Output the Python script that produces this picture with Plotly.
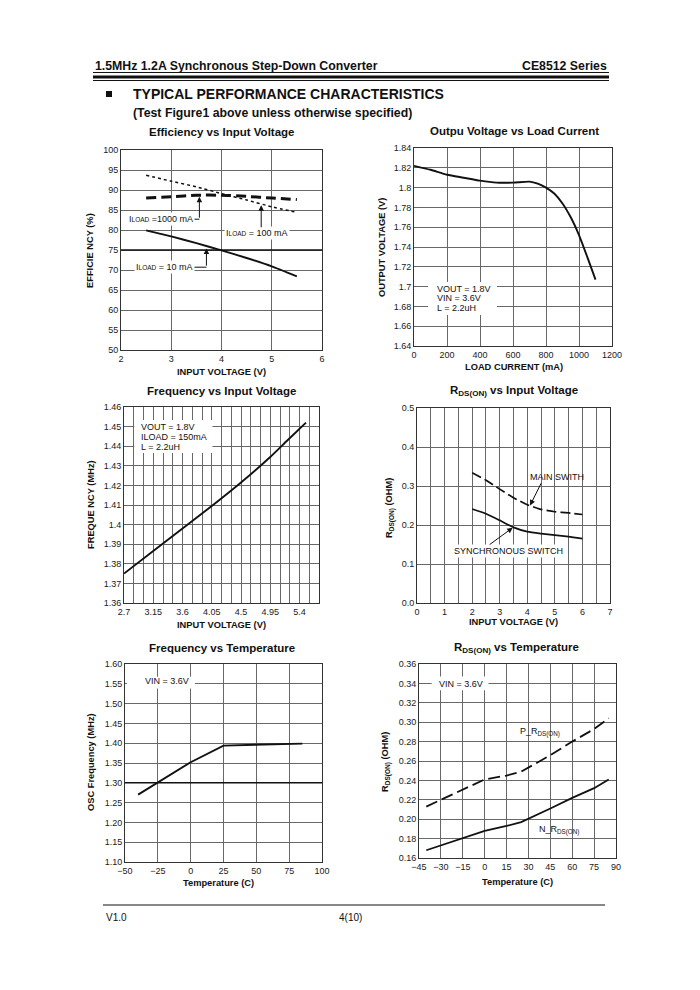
import plotly.graph_objects as go

W, H = 700, 990
FONT = "Liberation Sans, Arial, sans-serif"
GRID = "#686868"
BORDER = "#333333"

# ---------------- data ----------------
eff_vin = [2.5, 3.0, 3.5, 4.0, 4.5, 5.0, 5.5]
eff_10mA = [79.9, 78.4, 76.7, 74.9, 73.0, 70.9, 68.4]
eff_100mA = [93.7, 92.2, 90.8, 89.1, 87.5, 85.8, 84.4]
eff_1000mA = [88.0, 88.3, 88.7, 88.7, 88.4, 88.0, 87.6]

vout_iload = [0, 100, 200, 300, 400, 500, 600, 700, 750, 800, 850, 900, 950, 1000, 1050, 1100]
vout_v = [1.822, 1.818, 1.813, 1.810, 1.807, 1.805, 1.805, 1.806, 1.804, 1.800, 1.794, 1.784,
          1.770, 1.752, 1.730, 1.707]

fosc_vin = [2.7, 3.15, 3.6, 4.05, 4.5, 4.95, 5.2, 5.5]
fosc_mhz = [1.375, 1.3865, 1.398, 1.4095, 1.4215, 1.4345, 1.4425, 1.452]

rds_vin = [2, 2.5, 3, 3.5, 4, 4.5, 5, 5.5, 6]
rds_main = [0.334, 0.315, 0.292, 0.270, 0.252, 0.240, 0.234, 0.231, 0.227]
rds_sync = [0.241, 0.229, 0.212, 0.194, 0.183, 0.178, 0.174, 0.170, 0.165]

ft_temp = [-40, -25, 0, 25, 50, 75, 85]
ft_mhz = [1.27, 1.30, 1.352, 1.394, 1.396, 1.398, 1.399]

rt_temp = [-40, -30, -15, 0, 15, 25, 45, 60, 75, 85]
rt_p = [0.213, 0.220, 0.231, 0.241, 0.245, 0.249, 0.266, 0.280, 0.293, 0.304]
rt_n = [0.168, 0.173, 0.180, 0.188, 0.193, 0.197, 0.211, 0.222, 0.232, 0.241]

# ---------------- layout helpers ----------------
def px(x):
    return x / W


def py(y):
    return 1 - y / H


def dx(a, b):
    return [a / W, b / W]


def dy(top, bot):
    return [1 - bot / H, 1 - top / H]


BOX = {
    1: (121, 322, 150, 350),
    2: (414, 612, 148, 346),
    3: (124, 319, 407, 603),
    4: (417, 610, 408, 603),
    5: (125, 322, 664, 862),
    6: (419, 616, 664, 858),
}


def axis(domain, rng, dtick, anchor, tick0=None, fmt=None, minor=None):
    d = dict(domain=domain, range=rng, dtick=dtick, anchor=anchor, automargin=False,
             showgrid=True, gridcolor=GRID, gridwidth=1,
             showline=True, linecolor=BORDER, linewidth=1, mirror=True,
             ticks="", zeroline=False, fixedrange=True,
             tickfont=dict(family=FONT, size=9, color="#1a1a1a"))
    if tick0 is not None:
        d["tick0"] = tick0
    if fmt:
        d["tickformat"] = fmt
    if minor:
        d["minor"] = minor
    return d


fig = go.Figure()
LINE = "#111111"


def add(x, y, n, dash="solid", width=1.6, shape="linear", smooth=None):
    ln = dict(color=LINE, width=width, dash=dash, shape=shape)
    if smooth is not None:
        ln["smoothing"] = smooth
    fig.add_trace(go.Scatter(x=x, y=y, mode="lines", line=ln, showlegend=False,
                             xaxis="x" if n == 1 else f"x{n}",
                             yaxis="y" if n == 1 else f"y{n}", hoverinfo="skip"))


add(eff_vin, eff_10mA, 1, width=1.9, shape="spline", smooth=0.5)
add(eff_vin, eff_100mA, 1, dash="dot", width=1.5, shape="spline", smooth=0.5)
add(eff_vin, eff_1000mA, 1, dash="10px,5px", width=3, shape="spline", smooth=0.5)
add(vout_iload, vout_v, 2, width=1.9, shape="spline", smooth=0.6)
add(fosc_vin, fosc_mhz, 3, width=1.9, shape="spline", smooth=0.5)
add(rds_vin, rds_main, 4, dash="10px,4px", width=1.7, shape="spline", smooth=0.5)
add(rds_vin, rds_sync, 4, width=1.7, shape="spline", smooth=0.5)
add(ft_temp, ft_mhz, 5, width=1.9)
add(rt_temp, rt_p, 6, dash="12px,5px", width=1.8)
add(rt_temp, rt_n, 6, width=1.8)

lay = dict(width=W, height=H, autosize=False,
           margin=dict(l=0, r=0, t=0, b=0, pad=0, autoexpand=False),
           paper_bgcolor="white", plot_bgcolor="white", showlegend=False)

b = BOX[1]
lay["xaxis"] = axis(dx(b[0], b[1]), [2, 6], 1, "y")
lay["yaxis"] = axis(dy(b[2], b[3]), [50, 100], 5, "x")
b = BOX[2]
lay["xaxis2"] = axis(dx(b[0], b[1]), [0, 1200], 200, "y2")
lay["yaxis2"] = axis(dy(b[2], b[3]), [1.64, 1.84], 0.02, "x2")
b = BOX[3]
lay["xaxis3"] = axis(dx(b[0], b[1]), [2.7, 5.7], 0.45, "y3", tick0=2.7,
                     minor=dict(dtick=0.15, tick0=2.7, showgrid=True, gridcolor=GRID, gridwidth=1, ticks=""))
lay["yaxis3"] = axis(dy(b[2], b[3]), [1.36, 1.46], 0.01, "x3")
b = BOX[4]
lay["xaxis4"] = axis(dx(b[0], b[1]), [0, 7], 1, "y4",
                     minor=dict(dtick=0.5, showgrid=True, gridcolor=GRID, gridwidth=1, ticks=""))
lay["yaxis4"] = axis(dy(b[2], b[3]), [0, 0.5], 0.1, "x4", fmt=".1f")
b = BOX[5]
lay["xaxis5"] = axis(dx(b[0], b[1]), [-50, 100], 25, "y5")
lay["yaxis5"] = axis(dy(b[2], b[3]), [1.10, 1.60], 0.05, "x5", fmt=".2f")
b = BOX[6]
lay["xaxis6"] = axis(dx(b[0], b[1]), [-45, 90], 15, "y6", tick0=-45)
lay["yaxis6"] = axis(dy(b[2], b[3]), [0.16, 0.36], 0.02, "x6", fmt=".2f")

fig.update_layout(**lay)

ann = []
shapes = []


def ptext(x, y, text, size=11, bold=False, xanchor="center", yanchor="middle", angle=0, color="#111"):
    t = f"<b>{text}</b>" if bold else text
    ann.append(dict(x=px(x), y=py(y), xref="paper", yref="paper", text=t, showarrow=False,
                    xanchor=xanchor, yanchor=yanchor, textangle=angle,
                    font=dict(family=FONT, size=size, color=color)))


def pline(x0, y0, x1, y1, width=1, color="#111"):
    shapes.append(dict(type="line", xref="paper", yref="paper", x0=px(x0), y0=py(y0),
                       x1=px(x1), y1=py(y1), line=dict(color=color, width=width)))


# ---------------- page header / footer ----------------
ptext(93, 66, "1.5MHz 1.2A Synchronous Step-Down Converter", size=12.3, bold=True, xanchor="left")
ptext(609, 66, "CE8512 Series", size=12.3, bold=True, xanchor="right")
pline(93, 72.5, 609, 72.5, width=1)
pline(93, 77, 609, 77, width=3)
pline(93, 80.5, 609, 80.5, width=1)
shapes.append(dict(type="rect", xref="paper", yref="paper", x0=px(106), x1=px(112),
                   y0=py(97), y1=py(91), fillcolor="#111", line=dict(width=0)))
ptext(131, 94, "TYPICAL PERFORMANCE CHARACTERISTICS", size=14, bold=True, xanchor="left")
ptext(131, 113, "(Test Figure1 above unless otherwise specified)", size=12.3, bold=True, xanchor="left")
pline(103, 905, 605, 905, width=1.2)
ptext(104, 917, "V1.0", size=10, xanchor="left")
ptext(337, 917, "4(10)", size=10, xanchor="left")

# ---------------- subplot titles ----------------
ptext(222, 132, "Efficiency vs Input Voltage", size=11.5, bold=True)
ptext(514, 131, "Outpu Voltage vs Load Current", size=11.5, bold=True)
ptext(222, 391, "Frequency vs Input Voltage", size=11.5, bold=True)
ptext(514, 391, "R<sub>DS(ON)</sub> vs Input Voltage", size=11.5, bold=True)
ptext(222, 648, "Frequency vs Temperature", size=11.5, bold=True)
ptext(516, 648, "R<sub>DS(ON)</sub> vs Temperature", size=11.5, bold=True)

# ---------------- axis titles ----------------
AT = 9.3
ptext(221, 372, "INPUT VOLTAGE (V)", size=AT, bold=True)
ptext(90, 250, "EFFICIE NCY (%)", size=AT, bold=True, angle=-90)
ptext(514, 367, "LOAD CURRENT (mA)", size=AT, bold=True)
ptext(382, 248, "OUTPUT VOLTAGE (V)", size=AT, bold=True, angle=-90)
ptext(222, 625, "INPUT VOLTAGE (V)", size=AT, bold=True)
ptext(91, 505, "FREQUE NCY (MHz)", size=AT, bold=True, angle=-90)
ptext(513, 622, "INPUT VOLTAGE (V)", size=AT, bold=True)
ptext(390, 508, "R<sub>DS(ON)</sub> (OHM)", size=AT, bold=True, angle=-90)
ptext(219, 883, "Temperature (C)", size=AT, bold=True)
ptext(91, 762, "OSC Frequency (MHz)", size=AT, bold=True, angle=-90)
ptext(517, 882, "Temperature (C)", size=AT, bold=True)
ptext(386, 762, "R<sub>DS(ON)</sub> (OHM)", size=AT, bold=True, angle=-90)


# ---------------- in-plot annotations ----------------
def dtext(n, x, y, text, xanchor="center", bg=None, size=9):
    xr = "x" if n == 1 else f"x{n}"
    yr = "y" if n == 1 else f"y{n}"
    a = dict(x=x, y=y, xref=xr, yref=yr, text=text, showarrow=False, xanchor=xanchor,
             yanchor="middle", font=dict(family=FONT, size=size, color="#111"), borderpad=1)
    if bg:
        a["bgcolor"] = bg
    ann.append(a)


def darrow(n, x0, y0, x1, y1):
    xr = "x" if n == 1 else f"x{n}"
    yr = "y" if n == 1 else f"y{n}"
    ann.append(dict(x=x1, y=y1, ax=x0, ay=y0, xref=xr, yref=yr, axref=xr, ayref=yr, text="",
                    showarrow=True, arrowhead=2, arrowsize=1.1, arrowwidth=1, arrowcolor="#111",
                    standoff=0, startstandoff=0))


def dline(n, x0, y0, x1, y1, width=1):
    xr = "x" if n == 1 else f"x{n}"
    yr = "y" if n == 1 else f"y{n}"
    shapes.append(dict(type="line", xref=xr, yref=yr, x0=x0, y0=y0, x1=x1, y1=y1,
                       line=dict(color="#111", width=width)))


def drect(n, x0, y0, x1, y1):
    xr = "x" if n == 1 else f"x{n}"
    yr = "y" if n == 1 else f"y{n}"
    shapes.append(dict(type="rect", xref=xr, yref=yr, x0=x0, y0=y0, x1=x1, y1=y1,
                       fillcolor="white", line=dict(width=0), layer="above"))


ILOAD = "I<span style='font-size:6.5px'>LOAD</span>"

# efficiency: dark reference line and load labels
dline(1, 2, 75, 6, 75, width=1.6)
dtext(1, 2.11, 82.7, ILOAD + " =1000 mA", xanchor="left", bg="white")
dline(1, 3.38, 82.7, 3.56, 82.7)
darrow(1, 3.56, 82.7, 3.56, 88.3)
dtext(1, 4.04, 79.2, ILOAD + " = 100 mA", xanchor="left", bg="white")
darrow(1, 4.79, 80.3, 4.79, 86.2)
dtext(1, 2.26, 70.7, ILOAD + " = 10 mA", xanchor="left", bg="white")
dline(1, 3.38, 70.7, 3.70, 70.7)
darrow(1, 3.70, 70.7, 3.70, 75.4)

# output voltage text block
drect(2, 85, 1.6713, 503, 1.7046)
dtext(2, 127, 1.6976, "VOUT = 1.8V", xanchor="left")
dtext(2, 127, 1.6882, "VIN = 3.6V", xanchor="left")
dtext(2, 127, 1.6787, "L = 2.2uH", xanchor="left")

# frequency vs vin text block
drect(3, 2.86, 1.4365, 4.06, 1.4534)
dtext(3, 2.93, 1.4500, "VOUT = 1.8V", xanchor="left")
dtext(3, 2.93, 1.4449, "ILOAD = 150mA", xanchor="left")
dtext(3, 2.93, 1.4398, "L = 2.2uH", xanchor="left")

# rds vs vin labels
dtext(4, 5.06, 0.324, "MAIN SWITH")
darrow(4, 4.53, 0.311, 4.1, 0.250)
dtext(4, 3.33, 0.134, "SYNCHRONOUS SWITCH", bg="white")
darrow(4, 2.58, 0.147, 3.47, 0.193)

# freq vs temp
dline(5, -50, 1.30, 100, 1.30, width=1.6)
drect(5, -48.5, 1.538, 3.2, 1.568)
dtext(5, -36, 1.557, "VIN = 3.6V", xanchor="left")

# rds vs temp
drect(6, -36.3, 0.333, 2.6, 0.347)
dtext(6, -32.4, 0.3393, "VIN = 3.6V", xanchor="left")
dtext(6, 38, 0.2895, "P_R<sub>DS(ON)</sub>", bg=None)
dtext(6, 51, 0.1886, "N_R<sub>DS(ON)</sub>", bg=None)

fig.update_layout(annotations=ann, shapes=shapes)
fig.write_html("out.html",
               config={"responsive": False, "displayModeBar": False, "staticPlot": True},
               post_script="document.body.style.margin='0';document.body.style.overflow='hidden';")
